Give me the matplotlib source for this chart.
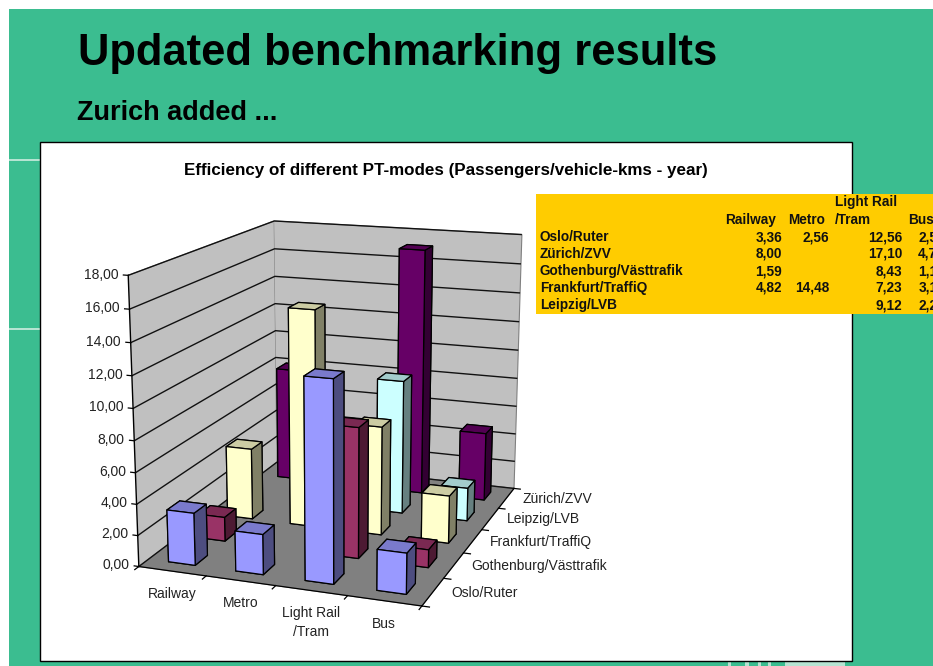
import numpy as np
import matplotlib
matplotlib.use("Agg")
import matplotlib.pyplot as plt
from matplotlib.patches import Rectangle
from mpl_toolkits.mplot3d import Axes3D, proj3d

plt.rcParams['font.family'] = ['Liberation Sans', 'DejaVu Sans']

W, H = 933, 666

modes = ['Railway', 'Metro', 'Light Rail\n/Tram', 'Bus']
depth_labels = ['Oslo/Ruter', 'Gothenburg/Västtrafik', 'Frankfurt/TraffiQ', 'Leipzig/LVB', 'Zürich/ZVV']
railway = [3.36, 1.59, 4.82, np.nan, 8.00]
metro = [2.56, np.nan, 14.48, np.nan, np.nan]
light_rail = [12.56, 8.43, 7.23, 9.12, 17.10]
bus = [2.55, 1.15, 3.15, 2.25, 4.75]
z_ticks = [0, 2, 4, 6, 8, 10, 12, 14, 16, 18]
table_order = [0, 4, 1, 2, 3]
table_names = ['Oslo/Ruter', 'Zürich/ZVV', 'Gothenburg/Västtrafik', 'Frankfurt/TraffiQ', 'Leipzig/LVB']

front = ['#9999FF', '#993366', '#FFFFCC', '#CCFFFF', '#660066']
top = ['#7A7ACC', '#7A2952', '#CCCCA3', '#A3CCCC', '#520052']
side = ['#4D4D80', '#4D1A33', '#808066', '#668080', '#330033']
GREEN = '#3BBD90'
BAR_W = 0.4

fig = plt.figure(figsize=(W/100, H/100), dpi=100, facecolor='white')

# slide background in pixel coordinates
bg = fig.add_axes([0, 0, 1, 1])
bg.set_xlim(0, W); bg.set_ylim(H, 0); bg.axis('off')
bg.add_patch(Rectangle((9, 9), W-9, H-9, fc=GREEN, ec='none'))
for yy in (160, 329):
    bg.add_patch(Rectangle((9, yy-1), 32, 2, fc='#B5E4D2', ec='none'))
for xx, ww in ((728, 3), (745, 4), (758, 3), (768, 3), (785, 60)):
    bg.add_patch(Rectangle((xx, 661), ww, 5, fc='#B5E4D2', ec='none'))
bg.add_patch(Rectangle((40, 142), 812, 518.5, fc='white', ec='black', lw=1.0))
bg.text(78, 54, 'Updated benchmarking results', fontsize=31.35, fontweight='bold', va='center', ha='left', color='black')
bg.text(77, 112.5, 'Zurich added ...', fontsize=19.55, fontweight='bold', va='center', ha='left', color='black')
bg.text(446, 170, 'Efficiency of different PT-modes (Passengers/vehicle-kms - year)', fontsize=12.25,
        fontweight='bold', va='center', ha='center', color='black')

# data table
bg.add_patch(Rectangle((536, 194), W-536, 120, fc='#FFCC00', ec='none'))
tfs = 9.85
def tt(x, y, s, ha='right'):
    bg.text(x, y, s, fontsize=tfs, fontweight='bold', va='center', ha=ha, color='#111111')
tt(835, 202, 'Light Rail', 'left')
tt(776, 220, 'Railway'); tt(825, 220, 'Metro'); tt(835, 220, '/Tram', 'left'); tt(908, 220, 'Bus', 'left')
rows_y = [237, 254, 271, 288, 305]
def fmt(v):
    return '' if np.isnan(v) else f'{v:.2f}'.replace('.', ',')
for yy, name, i in zip(rows_y, table_names, table_order):
    tt(540, yy, name, 'left')
    tt(782, yy, fmt(railway[i])); tt(829, yy, fmt(metro[i]))
    tt(902, yy, fmt(light_rail[i])); tt(945, yy, fmt(bus[i]))

# 3D chart
ax = fig.add_axes([76.72/W, 10.54/H, 512.53/W, 512.53/H], projection='3d', computed_zorder=False)
ax.patch.set_alpha(0)
ax.set_xlim(0, 4); ax.set_ylim(0, 5); ax.set_zlim(0, 18)
ax.view_init(elev=14.9746, azim=-70.1655)
ax.set_proj_type('persp', focal_length=0.55)
ax.set_box_aspect((1, 1.2407, 1.0))

ax.xaxis.set_pane_color('#C0C0C0'); ax.yaxis.set_pane_color('#C0C0C0'); ax.zaxis.set_pane_color('#808080')
for a in (ax.xaxis, ax.yaxis, ax.zaxis):
    a.pane.set_edgecolor('#808080')
    a.pane.set_linewidth(0.8)
    a.line.set_color('black')
    a.line.set_linewidth(0.9)
    a._axinfo['tick']['inward_factor'] = 0.0
    a._axinfo['tick']['outward_factor'] = 0.0
ax.xaxis._axinfo['grid']['linewidth'] = 0
ax.yaxis._axinfo['grid']['linewidth'] = 0
ax.zaxis._axinfo['grid'].update(color='#111111', linewidth=1.0)
ax.zaxis._axinfo['juggled'] = (1, 0, 2)
ax.zaxis.line.set_linewidth(0)

ax.set_xticks(np.arange(len(modes))+0.5)
ax.set_xticklabels([])
ax.set_yticks(np.arange(len(depth_labels))+0.5)
ax.set_yticklabels([])
ax.set_zticks(z_ticks)
ax.set_zticklabels([])

# value axis line and tick marks of all three axes
ax.plot([0, 0], [0, 0], [0, 18], color='black', lw=1.0)
for zt in z_ticks:
    ax.plot([0, -0.07], [0, 0], [zt, zt], color='black', lw=0.9)
for xt in range(len(modes)+1):
    ax.plot([xt, xt], [0, -0.12], [0, 0], color='black', lw=0.9)
for yt in range(len(depth_labels)+1):
    ax.plot([4, 4.1], [yt, yt], [0, 0], color='black', lw=0.9)

# bars, back row first
series = [railway, metro, light_rail, bus]
for j in range(len(depth_labels)-1, -1, -1):
    for i, vals in enumerate(series):
        v = vals[j]
        if np.isnan(v):
            continue
        # bar3d face order: -Z, +Z, -Y, +Y, -X, +X
        cols = [side[j], top[j], front[j], side[j], side[j], side[j]]
        ax.bar3d(i+0.5-BAR_W/2, j+0.5-BAR_W/2, 0, BAR_W, BAR_W, v, color=cols, shade=False,
                 edgecolor='black', linewidth=0.9)

# axis labels anchored in data space, projected through the axes' own view
LBL = '#222222'
M = ax.get_proj()
def label3d(x, y, z, s, **kw):
    px, py, _ = proj3d.proj_transform(x, y, z, M)
    ax.text2D(px, py, s, transform=ax.transData, fontsize=10, color=LBL, **kw)
for zt in z_ticks:
    label3d(-0.14, 0, zt, f'{zt:.2f}'.replace('.', ','), ha='right', va='center')
for i, m in enumerate(modes):
    label3d(i+0.5, 0, -1.0, m, ha='center', va='top', linespacing=1.4)
for j, d in enumerate(depth_labels):
    label3d(4.25, j+0.5, 0.1, d, ha='left', va='center')

fig.savefig('out.png', dpi=100)
